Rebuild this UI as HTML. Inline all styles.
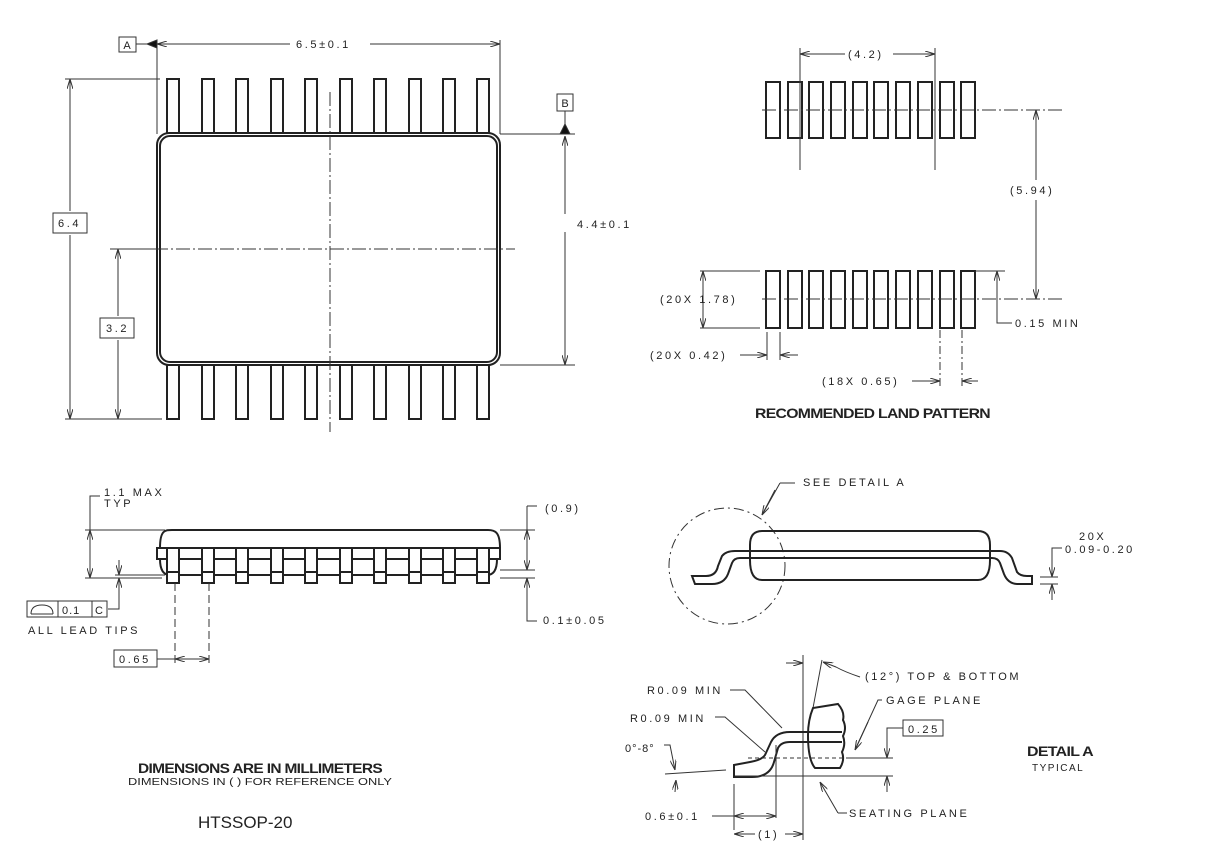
<!DOCTYPE html>
<html><head><meta charset="utf-8"><style>
html,body{margin:0;padding:0;background:#fff}
svg{display:block}
text{font-family:"Liberation Sans",sans-serif;fill:#222}
.d{font-size:11px;letter-spacing:2.6px}
.b{font-weight:bold;font-size:14px;letter-spacing:-0.6px}
</style></head><body>
<svg width="1210" height="860" viewBox="0 0 1210 860" xmlns="http://www.w3.org/2000/svg">
<defs>
<marker id="a" viewBox="0 0 10 6" refX="10" refY="3" markerWidth="10" markerHeight="6" orient="auto-start-reverse" markerUnits="userSpaceOnUse"><path d="M0,0L10,3L0,6" fill="none" stroke="#333" stroke-width="1"/></marker>
</defs>
<g stroke="#333" stroke-width="1" fill="none">
<!-- TOP VIEW -->
<g stroke-width="2" stroke="#222">
<rect x="167" y="79" width="12" height="55"/><rect x="202" y="79" width="12" height="55"/><rect x="236" y="79" width="12" height="55"/><rect x="271" y="79" width="12" height="55"/><rect x="305" y="79" width="12" height="55"/><rect x="340" y="79" width="12" height="55"/><rect x="374" y="79" width="12" height="55"/><rect x="409" y="79" width="12" height="55"/><rect x="443" y="79" width="12" height="55"/><rect x="477" y="79" width="12" height="55"/>
<rect x="167" y="365" width="12" height="54"/><rect x="202" y="365" width="12" height="54"/><rect x="236" y="365" width="12" height="54"/><rect x="271" y="365" width="12" height="54"/><rect x="305" y="365" width="12" height="54"/><rect x="340" y="365" width="12" height="54"/><rect x="374" y="365" width="12" height="54"/><rect x="409" y="365" width="12" height="54"/><rect x="443" y="365" width="12" height="54"/><rect x="477" y="365" width="12" height="54"/>
<rect x="157" y="133" width="343" height="232" rx="12" fill="#fff"/>
<rect x="160" y="136" width="337" height="226" rx="10"/>
</g>
<path d="M330 92V432" stroke-dasharray="14,3,2,3"/>
<path d="M110 249H515" stroke-dasharray="14,3,2,3"/>
<path d="M157 44V134M500 40V134"/>
<path d="M157 44H290M370 44H500" marker-end="url(#a)"/>
<path d="M157 44H290" marker-start="url(#a)"/>
<path d="M147 44L157 40V48Z" fill="#111"/>
<path d="M136 44H147"/>
<rect x="119" y="37" width="17" height="15"/>
<path d="M500 134H575M500 365H575M565 111V124"/>
<path d="M565 124L560 134H570Z" fill="#111"/>
<rect x="557" y="94" width="16" height="17"/>
<path d="M565 136V214M565 232V365" marker-end="url(#a)"/>
<path d="M565 214V136" marker-end="url(#a)"/>
<path d="M65 79H160M65 419H162M110 249H157"/>
<path d="M70 211V79" marker-end="url(#a)"/><path d="M70 235V419" marker-end="url(#a)"/>
<path d="M118 316V249" marker-end="url(#a)"/><path d="M118 340V419" marker-end="url(#a)"/>
<rect x="53" y="213" width="34" height="20"/>
<rect x="100" y="318" width="34" height="20"/>
<!-- LAND PATTERN -->
<g stroke-width="2" stroke="#222">
<rect x="766" y="82" width="14" height="56"/><rect x="788" y="82" width="14" height="56"/><rect x="809" y="82" width="14" height="56"/><rect x="831" y="82" width="14" height="56"/><rect x="853" y="82" width="14" height="56"/><rect x="874" y="82" width="14" height="56"/><rect x="896" y="82" width="14" height="56"/><rect x="918" y="82" width="14" height="56"/><rect x="940" y="82" width="14" height="56"/><rect x="961" y="82" width="14" height="56"/>
<rect x="766" y="271" width="14" height="57"/><rect x="788" y="271" width="14" height="57"/><rect x="809" y="271" width="14" height="57"/><rect x="831" y="271" width="14" height="57"/><rect x="853" y="271" width="14" height="57"/><rect x="874" y="271" width="14" height="57"/><rect x="896" y="271" width="14" height="57"/><rect x="918" y="271" width="14" height="57"/><rect x="940" y="271" width="14" height="57"/><rect x="961" y="271" width="14" height="57"/>
</g>
<path d="M762 110H1065M762 299H1065" stroke-dasharray="14,3,2,3"/>
<path d="M800 48V170M935 48V170"/>
<path d="M845 54H800" marker-end="url(#a)"/><path d="M893 54H935" marker-end="url(#a)"/>
<path d="M1036 180V110" marker-end="url(#a)"/><path d="M1036 200V299" marker-end="url(#a)"/>
<path d="M700 271H760M700 328H760M975 271H1005"/>
<path d="M703 299V271" marker-end="url(#a)"/><path d="M703 299V328" marker-end="url(#a)"/>
<path d="M997 300V271" marker-end="url(#a)"/><path d="M997 300V323H1012"/>
<path d="M767 332V360M780 332V360"/>
<path d="M740 355H767" marker-end="url(#a)"/><path d="M798 355H780" marker-end="url(#a)"/>
<path d="M940 330V386M962 330V386" stroke-dasharray="8,3,2,3"/>
<path d="M912 381H940" marker-end="url(#a)"/><path d="M978 381H962" marker-end="url(#a)"/>
<!-- SIDE VIEW LEFT -->
<g stroke-width="2" stroke="#222">
<path d="M160 548C160 530 165 530 172 530H488C495 530 500 532 500 548"/>
<rect x="157" y="548" width="343" height="11"/>
<path d="M160 559Q160 575 170 575M497 559Q497 575 487 575M170 575H487"/>
<rect x="167" y="548" width="12" height="35" fill="#fff"/><rect x="202" y="548" width="12" height="35" fill="#fff"/><rect x="236" y="548" width="12" height="35" fill="#fff"/><rect x="271" y="548" width="12" height="35" fill="#fff"/><rect x="305" y="548" width="12" height="35" fill="#fff"/><rect x="340" y="548" width="12" height="35" fill="#fff"/><rect x="374" y="548" width="12" height="35" fill="#fff"/><rect x="409" y="548" width="12" height="35" fill="#fff"/><rect x="443" y="548" width="12" height="35" fill="#fff"/><rect x="477" y="548" width="12" height="35" fill="#fff"/>
<path d="M167 572H179M202 572H214M236 572H248M271 572H283M305 572H317M340 572H352M374 572H386M409 572H421M443 572H455M477 572H489"/>
</g>
<path d="M100 496H90V578"/>
<path d="M85 530H165M85 578H162M115 575H165" />
<path d="M90 553V530" marker-end="url(#a)"/><path d="M90 553V578" marker-end="url(#a)"/>
<path d="M119 560V575" marker-end="url(#a)"/><path d="M119 600V578" marker-end="url(#a)"/>
<path d="M119 600V609H108"/>
<rect x="27" y="601" width="80" height="16"/><path d="M58 601V617M92 601V617"/>
<path d="M31 614H53M31 614Q31 605 42 605Q53 605 53 614"/>
<path d="M175 583V665M209 583V665" stroke-dasharray="8,4"/>
<rect x="114" y="650" width="43" height="17"/>
<path d="M157 659H175"/><path d="M192 659H175" marker-end="url(#a)"/><path d="M192 659H209" marker-end="url(#a)"/>
<path d="M500 530H535M500 570H535M500 578H535"/>
<path d="M527 506H537M527 506V530M527 550V530" marker-end="url(#a)"/>
<path d="M527 550V570" marker-end="url(#a)"/>
<path d="M527 600V578" marker-end="url(#a)"/><path d="M527 600V621H537"/>
<!-- SIDE VIEW RIGHT -->
<circle cx="727" cy="566" r="58" stroke-dasharray="10,4,2,4"/>
<path d="M780 483H795M780 483L762 515" /><path d="M775 490L762 515" marker-end="url(#a)"/>
<g stroke-width="2" stroke="#222">
<path d="M750 560V545Q750 531 762 531H978Q990 531 990 545V560"/>
<path d="M750 560Q750 580 762 580H978Q990 580 990 560"/>
<path d="M695 584L692 576H706Q716 576 718 566L722 556Q726 551 735 551H1000Q1008 551 1012 558L1017 572Q1020 576 1027 576H1032V584H1018Q1008 584 1004 574L1000 563Q998 558 992 558H740Q734 558 732 563L728 574Q724 584 712 584Z"/>
</g>
<path d="M1040 577H1058M1040 584H1058"/>
<path d="M1052 560V577" marker-end="url(#a)"/><path d="M1052 600V584" marker-end="url(#a)"/>
<path d="M1052 560V548H1062"/>
<!-- DETAIL A -->
<path d="M803 655V840"/>
<path d="M786 663H803" marker-end="url(#a)"/>
<path d="M822 660L813 708"/>
<path d="M860 677Q845 672 836 667L823 662" marker-end="url(#a)"/>
<g stroke-width="2" stroke="#222">
<path d="M813 708Q808 720 808 735Q808 760 815 768H840Q845 760 842 752Q846 744 843 736Q847 728 843 720Q845 712 838 704Z"/>
<path d="M805 732H842M805 742H842"/>
<path d="M805 732H790Q776 732 771 742L765 755Q762 760 750 762L734 765V777H752Q770 777 774 762L778 748Q781 742 790 742H805"/>
</g>
<path d="M748 758H850" stroke-dasharray="4,3"/>
<path d="M850 758H893M735 776H893"/>
<path d="M887 735V758M887 776V792"/>
<path d="M887 745V758" marker-end="url(#a)"/><path d="M887 788V776" marker-end="url(#a)"/>
<path d="M887 745V728H903"/>
<rect x="903" y="720" width="40" height="16"/>
<path d="M882 700H878L855 750" /><path d="M868 722L855 750" marker-end="url(#a)"/>
<path d="M838 813L820 782" marker-end="url(#a)"/><path d="M838 813H847"/>
<path d="M730 690H745L782 728"/>
<path d="M715 717H725L765 752"/>
<path d="M665 774L726 770"/>
<path d="M664 745H670L675 770" marker-end="url(#a)"/>
<path d="M675 792L676 780" marker-end="url(#a)"/>
<path d="M734 784V830M776 745V818"/>
<path d="M712 816H734"/><path d="M755 816H734" marker-end="url(#a)"/><path d="M755 816H776" marker-end="url(#a)"/>
<path d="M755 834H734" marker-end="url(#a)"/><path d="M785 834H803" marker-end="url(#a)"/>
</g>
<!-- TEXT -->
<text class="d" x="127" y="49" text-anchor="middle" style="letter-spacing:0">A</text>
<text class="d" x="565" y="107" text-anchor="middle" style="letter-spacing:0">B</text>
<text class="d" x="296" y="48">6.5±0.1</text>
<text class="d" x="577" y="228">4.4±0.1</text>
<text class="d" x="58" y="227">6.4</text>
<text class="d" x="106" y="332">3.2</text>
<text class="d" x="848" y="58">(4.2)</text>
<text class="d" x="1010" y="194">(5.94)</text>
<text class="d" x="660" y="303">(20X 1.78)</text>
<text class="d" x="1015" y="327">0.15 MIN</text>
<text class="d" x="650" y="359">(20X 0.42)</text>
<text class="d" x="822" y="385">(18X 0.65)</text>
<text class="b" x="755" y="418" textLength="235" lengthAdjust="spacingAndGlyphs">RECOMMENDED LAND PATTERN</text>
<text class="d" x="104" y="496">1.1 MAX</text>
<text class="d" x="104" y="507">TYP</text>
<text class="d" x="545" y="512">(0.9)</text>
<text class="d" x="543" y="624">0.1±0.05</text>
<text class="d" x="62" y="614" style="letter-spacing:1px">0.1</text>
<text class="d" x="95" y="614" style="letter-spacing:0">C</text>
<text class="d" x="28" y="634">ALL LEAD TIPS</text>
<text class="d" x="119" y="663">0.65</text>
<text class="b" x="138" y="773" textLength="244" lengthAdjust="spacingAndGlyphs">DIMENSIONS ARE IN MILLIMETERS</text>
<text x="128" y="785" style="font-size:10px" textLength="264" lengthAdjust="spacingAndGlyphs">DIMENSIONS IN ( ) FOR REFERENCE ONLY</text>
<text x="198" y="828" style="font-size:17px">HTSSOP-20</text>
<text class="d" x="803" y="486">SEE DETAIL A</text>
<text class="d" x="1079" y="540">20X</text>
<text class="d" x="1065" y="553">0.09-0.20</text>
<text class="d" x="865" y="680">(12°) TOP &amp; BOTTOM</text>
<text class="d" x="886" y="704">GAGE PLANE</text>
<text class="d" x="647" y="694">R0.09 MIN</text>
<text class="d" x="630" y="722">R0.09 MIN</text>
<text class="d" x="625" y="752" style="letter-spacing:1px">0°-8°</text>
<text class="d" x="908" y="733">0.25</text>
<text class="d" x="645" y="820">0.6±0.1</text>
<text class="d" x="758" y="838">(1)</text>
<text class="d" x="849" y="817">SEATING PLANE</text>
<text class="b" x="1027" y="756" textLength="66" lengthAdjust="spacingAndGlyphs">DETAIL A</text>
<text class="d" x="1032" y="771" style="font-size:10px;letter-spacing:1.5px">TYPICAL</text>
</svg>
</body></html>
